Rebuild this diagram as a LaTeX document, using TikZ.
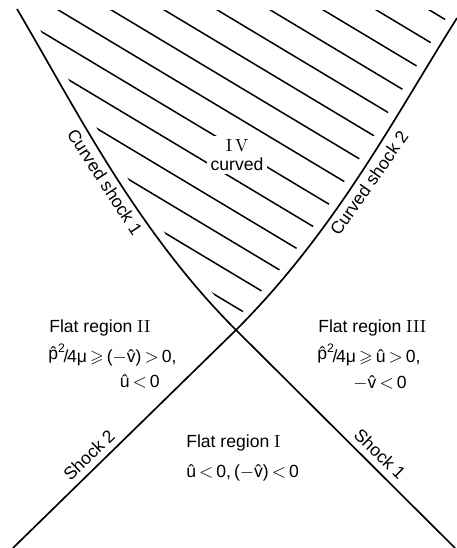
\documentclass[tikz,border=0pt]{standalone}
\usepackage{amssymb}
\usepackage{fontspec}
\setsansfont{Liberation Sans}
\renewcommand{\familydefault}{\sfdefault}

\newcommand{\uhat}{\^u}
\newcommand{\vhat}{\^v}
\newcommand{\pquart}{\raisebox{.4ex}{\^p\textsuperscript{2}}\kern-.12em/\kern-.08em4μ}

\tikzset{
  shock/.style={line width=1pt},
  hatch/.style={line width=0.9pt},
  lbl/.style={font=\fontsize{10.5}{11}\selectfont, inner sep=0pt},
}

\begin{document}
\begin{tikzpicture}[x=1.05cm, y=1.05cm]
\useasboundingbox (-4.72,-4.36) rectangle (4.42,6.6);
\coordinate (X) at (0,0);
\coordinate (S1end) at (4.38,-4.36);
\coordinate (S2end) at (-4.46,-4.36);
\coordinate (C1end) at (-4.38,6.42);
\coordinate (C2end) at (4.42,6.24);

% hatching of region IV
\begin{scope}
\clip (-4.72,-1) rectangle (4.42,6.38);
\clip (0.22,0) .. controls (-1.78,2) and (-2.98,4.42) .. (-4.16,6.42) -- (-4.16,7)
  -- (4.2,7) -- (4.2,6.24) .. controls (2.94,4.24) and (1.78,2) .. (-0.22,0) -- cycle;
\foreach \k in {-8,...,5}
  \draw[hatch] (-5,{3.632-0.636*\k+3}) -- (5,{3.632-0.636*\k-3});
\end{scope}

% shocks
\draw[shock] (X) .. controls (-2,2) and (-3.2,4.42) .. (C1end);
\draw[shock] (X) .. controls (2,2) and (3.16,4.24) .. (C2end);
\draw[shock] (X) -- (S1end);
\draw[shock] (X) -- (S2end);

\node[lbl, fill=white, inner sep=2pt, align=center] (IV) at (0.02,3.5) {{\rmfamily I\,V}\\curved};
\node[lbl, rotate=-57] (cs1) at (-2.62,2.96) {Curved shock 1};
\node[lbl, rotate=55] (cs2) at (2.66,2.94) {Curved shock 2};
\node[lbl, rotate=44] (s2) at (-2.94,-2.5) {Shock 2};
\node[lbl, rotate=-44] (s1) at (2.88,-2.48) {Shock 1};

% flat regions
\node[lbl, anchor=base west] (r2) at (-3.74,-0.06) {Flat region {\rmfamily II}};
\node[lbl, anchor=base west] (r2a) at (-3.76,-0.66) {\pquart$\,\geqslant\,$($-$\vhat)$\,>\,$0,};
\node[lbl, anchor=base east] (r2b) at (-1.52,-1.14) {\uhat$\,<\,$0};
\node[lbl, anchor=base west] (r3) at (1.64,-0.06) {Flat region {\rmfamily III}};
\node[lbl, anchor=base west] (r3a) at (1.62,-0.66) {\pquart$\,\geqslant\,$\uhat$\,>\,$0,};
\node[lbl, anchor=base east] (r3b) at (3.42,-1.16) {$-$\vhat$\,<\,$0};
\node[lbl, anchor=base west] (r1) at (-1.0,-2.34) {Flat region {\rmfamily I}};
\node[lbl, anchor=base west] (r1a) at (-1.0,-2.94) {\uhat$\,<\,$0,\,($-$\vhat)$\,<\,$0};
\end{tikzpicture}
\end{document}
